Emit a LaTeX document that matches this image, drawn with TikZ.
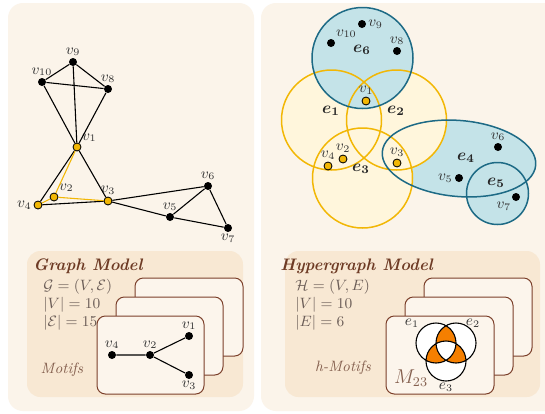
\documentclass[tikz,border=0pt]{standalone}
\usepackage{amsmath,amssymb}
\usepackage{xcolor}
\usepackage{tikz}

\definecolor{panelbg}{HTML}{FBF4EA}
\definecolor{boxbg}{HTML}{F8E8D3}
\definecolor{cardbg}{HTML}{FCF5EC}
\definecolor{brownline}{HTML}{7B3F2A}
\definecolor{titlebrown}{HTML}{6E3B25}
\definecolor{textgray}{HTML}{6B5D57}
\definecolor{motiftext}{HTML}{85604F}
\definecolor{hyperyellow}{HTML}{F2B705}
\definecolor{hypercream}{HTML}{FFF6DC}
\definecolor{tealline}{HTML}{1D6A85}
\definecolor{tealfill}{HTML}{C4E3E8}
\definecolor{motiforange}{HTML}{F57F00}

\begin{document}
\begin{tikzpicture}[
    x=0.6pt, y=-0.6pt,
    panel/.style={fill=panelbg, rounded corners=9pt},
    modelbox/.style={fill=boxbg, rounded corners=8pt},
    card/.style={draw=brownline, fill=cardbg, rounded corners=5pt, line width=0.6pt},
    vtx/.style={circle, fill=black, inner sep=0pt, minimum size=4.8pt},
    hvtx/.style={vtx, draw=black, fill=hyperyellow, line width=0.5pt},
    lbl/.style={text=black!80, font=\small, inner sep=1pt},
    edge/.style={line width=0.65pt},
    hedge/.style={edge, draw=hyperyellow},
    yellowset/.style={draw=hyperyellow, line width=0.9pt},
    tealset/.style={draw=tealline, line width=0.9pt},
    setlbl/.style={inner sep=0pt, text=black!85},
    title/.style={font=\bfseries\itshape, text=titlebrown, anchor=west, inner sep=0pt},
    stat/.style={text=textgray, font=\fontsize{8.6}{10}\selectfont, anchor=west, inner sep=0pt},
    motiflbl/.style={font=\small\itshape, text=motiftext, inner sep=0pt}
]

\clip (0,0) rectangle (545,413);
\fill[white] (0,0) rectangle (545,413);

% panels
\fill[panel] (8,3) rectangle (254,411);
\fill[panel] (261,3) rectangle (570,411);

% graph
\node[vtx, label={[lbl]above:$v_9$}] (g9) at (73,62) {};
\node[vtx, label={[lbl]above:$v_{10}$}] (g10) at (42,82) {};
\node[vtx, label={[lbl]above:$v_8$}] (g8) at (108,89) {};
\node[hvtx, label={[lbl]above right:$v_1$}] (g1) at (77,147) {};
\node[hvtx, label={[lbl]above right:$v_2$}] (g2) at (54,197) {};
\node[hvtx, label={[lbl]above:$v_3$}] (g3) at (108,201) {};
\node[hvtx, label={[lbl]left:$v_4$}] (g4) at (38,205) {};
\node[vtx, label={[lbl]above:$v_5$}] (g5) at (170,217) {};
\node[vtx, label={[lbl]above:$v_6$}] (g6) at (208,186) {};
\node[vtx, label={[lbl]below:$v_7$}] (g7) at (228,228) {};

\draw[edge] (g9) -- (g10) (g9) -- (g8) (g9) -- (g1) (g10) -- (g8)
            (g10) -- (g1) (g8) -- (g1) (g1) -- (g4) (g1) -- (g3)
            (g4) -- (g3) (g3) -- (g6) (g3) -- (g5) (g5) -- (g6)
            (g5) -- (g7) (g6) -- (g7);
\draw[hedge] (g4) -- (g2) (g2) -- (g1) (g2) -- (g3);

% hypergraph
\fill[tealfill] (459,158.5) [rotate around={-5:(459,158.5)}] ellipse [x radius=77, y radius=38];
\fill[tealfill] (497.5,193.5) circle [radius=31];
\fill[hypercream] (331.5,120) circle [radius=50];
\fill[hypercream] (396.5,120) circle [radius=50];
\fill[hypercream] (362.5,178) circle [radius=50];
\fill[tealfill] (362.5,58) circle [radius=50.5];
\draw[yellowset] (331.5,120) circle [radius=50];
\draw[yellowset] (396.5,120) circle [radius=50];
\draw[yellowset] (362.5,178) circle [radius=50];
\draw[tealset] (362.5,58) circle [radius=50.5];
\draw[tealset] (459,158.5) [rotate around={-5:(459,158.5)}] ellipse [x radius=77, y radius=38];
\draw[tealset] (497.5,193.5) circle [radius=31];

\node[setlbl] (e6) at (362,50) {$\boldsymbol{e_6}$};
\node[setlbl] (e1) at (331,111) {$\boldsymbol{e_1}$};
\node[setlbl] (e2) at (396,111) {$\boldsymbol{e_2}$};
\node[setlbl] (e3) at (361,169) {$\boldsymbol{e_3}$};
\node[setlbl] (e4) at (466,158) {$\boldsymbol{e_4}$};
\node[setlbl] (e5) at (496,183) {$\boldsymbol{e_5}$};

\node[hvtx, label={[lbl]above:$v_1$}] (h1) at (366,101) {};
\node[hvtx, label={[lbl]above:$v_2$}] (h2) at (343,159) {};
\node[hvtx, label={[lbl]above:$v_3$}] (h3) at (397,163) {};
\node[hvtx, label={[lbl]above:$v_4$}] (h4) at (328,166) {};
\node[vtx, label={[lbl]left:$v_5$}] (h5) at (459,178) {};
\node[vtx, label={[lbl]above:$v_6$}] (h6) at (498,147) {};
\node[vtx, label={[lbl]below left:$v_7$}] (h7) at (516,197) {};
\node[vtx, label={[lbl]above:$v_8$}] (h8) at (397,51) {};
\node[vtx, label={[lbl]right:$v_9$}] (h9) at (362,24) {};
\node[vtx, label={[lbl]above right:$v_{10}$}] (h10) at (331,43) {};

% graph model box
\fill[modelbox] (27,251) rectangle (243,397);
\node[title] (gtitle) at (33,266) {Graph Model};
\node[stat] (gdef) at (43,287) {$\mathcal{G}=(V,\mathcal{E})$};
\node[stat] (gv) at (43,305) {$|V|=10$};
\node[stat] (ge) at (43,323) {$|\mathcal{E}|=15$};
\draw[card] (135,278) rectangle (243,356);
\draw[card] (116,297) rectangle (223,375);
\draw[card] (97,316) rectangle (204,394);
\node[motiflbl] (gmotifs) at (62,370) {Motifs};

\node[vtx, label={[lbl]above:$v_4$}] (m4) at (112,355) {};
\node[vtx, label={[lbl]above:$v_2$}] (m2) at (150,355) {};
\node[vtx, label={[lbl]above:$v_1$}] (m1) at (189,336) {};
\node[vtx, label={[lbl]below:$v_3$}] (m3) at (189,375) {};
\draw[edge] (m4) -- (m2) (m2) -- (m1) (m2) -- (m3);

% hypergraph model box
\fill[modelbox] (285,251) rectangle (540,397);
\node[title] (htitle) at (280,266) {Hypergraph Model};
\node[stat] (hdef) at (295,287) {$\mathcal{H}=(V,E)$};
\node[stat] (hv) at (295,305) {$|V|=10$};
\node[stat] (he) at (295,323) {$|E|=6$};
\draw[card] (424,278) rectangle (532,356);
\draw[card] (405,297) rectangle (513,375);
\draw[card] (386,316) rectangle (494,394);
\node[motiflbl] (hmotifs) at (343,368) {h-Motifs};

% venn motif
\fill[white] (436,343) circle [radius=20] (456,343) circle [radius=20] (446,361) circle [radius=20];
\begin{scope}
  \clip (436,343) circle [radius=20];
  \fill[motiforange] (456,343) circle [radius=20];
  \fill[motiforange] (446,361) circle [radius=20];
\end{scope}
\begin{scope}
  \clip (456,343) circle [radius=20];
  \fill[motiforange] (446,361) circle [radius=20];
\end{scope}
\begin{scope}
  \clip (436,343) circle [radius=20];
  \clip (456,343) circle [radius=20];
  \fill[white] (446,361) circle [radius=20];
\end{scope}
\draw[edge] (436,343) circle [radius=20] (456,343) circle [radius=20] (446,361) circle [radius=20];
\node[lbl] (ve1) at (412,323) {$e_1$};
\node[lbl] (ve2) at (473,323) {$e_2$};
\node[lbl] (ve3) at (446,387) {$e_3$};
\node[text=motiftext, font=\large] (m23) at (411,378) {$M_{23}$};

\end{tikzpicture}
\end{document}
